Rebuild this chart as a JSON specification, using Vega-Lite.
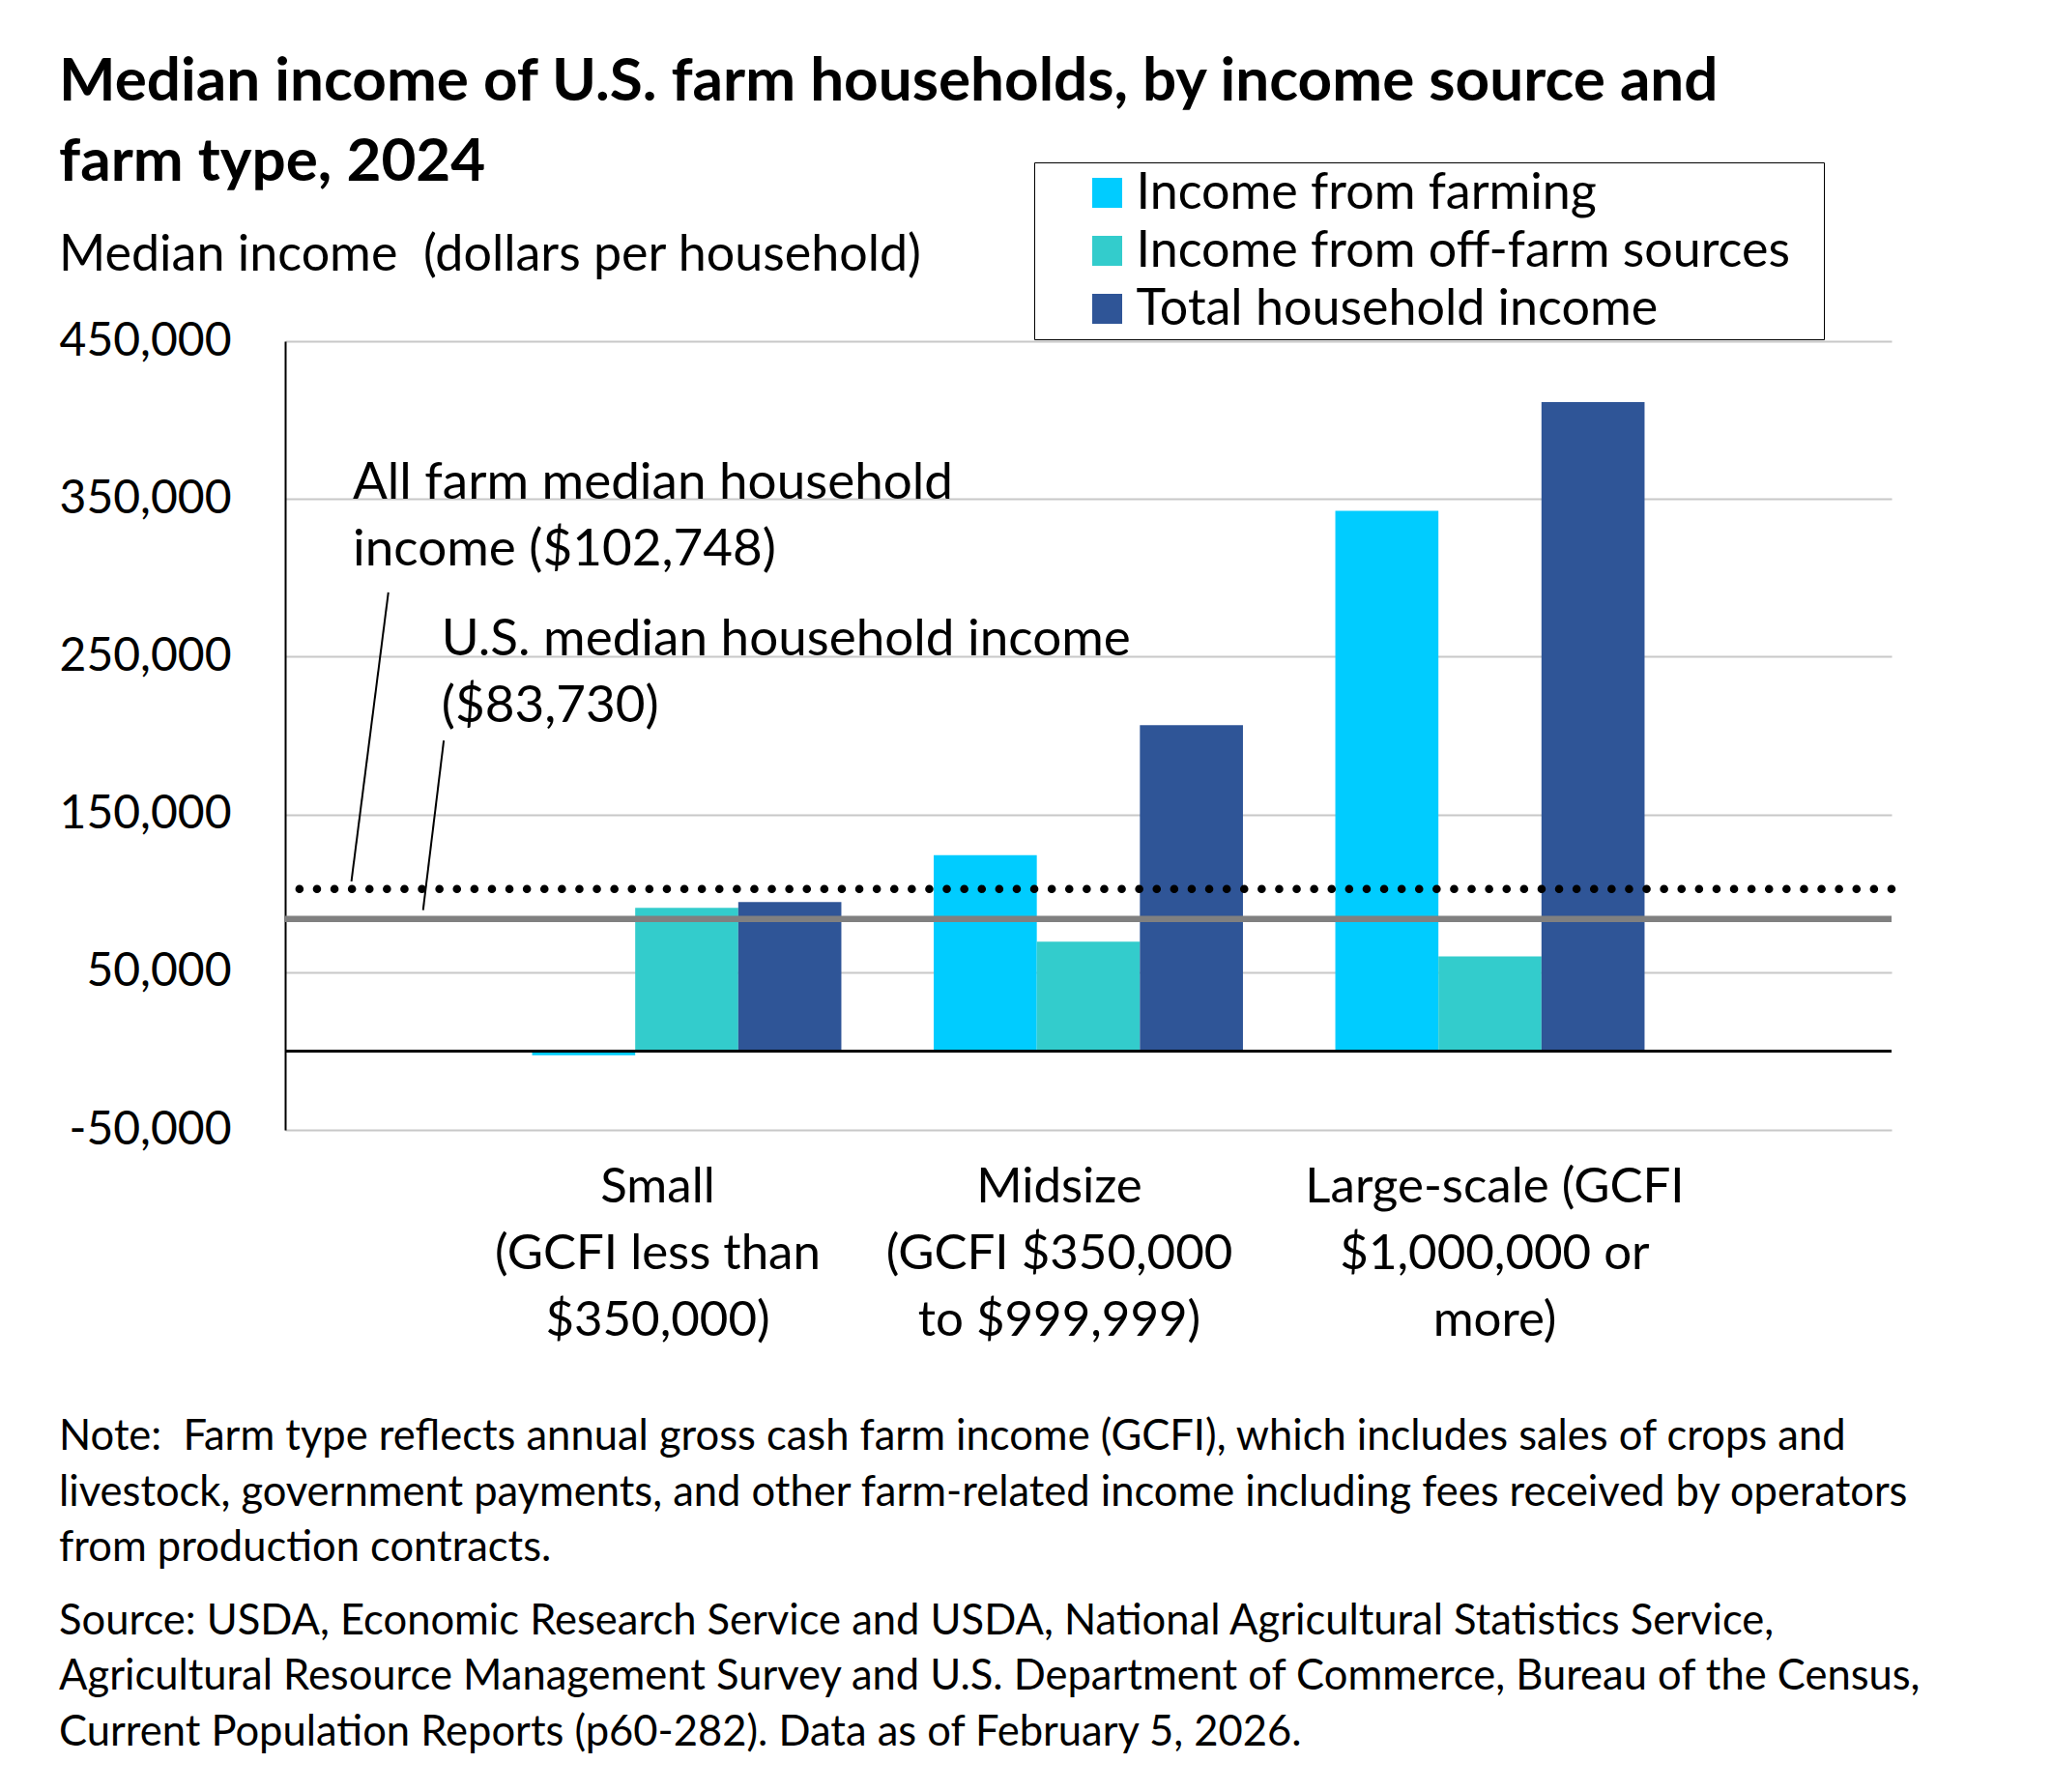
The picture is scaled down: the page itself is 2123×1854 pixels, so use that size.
{
  "$schema": "https://vega.github.io/schema/vega-lite/v6.json",
  "background": "white",
  "padding": {"left": 61, "top": 53, "right": 20, "bottom": 20},
  "autosize": {"type": "pad"},
  "title": {
    "text": [
      "Note:\u00a0 Farm type reflects annual gross cash farm income (GCFI), which includes sales of crops and",
      "livestock, government payments, and other farm-related income including fees received by operators",
      "from production contracts."
    ],
    "subtitle": [
      "Source: USDA, Economic Research Service and USDA, National Agricultural Statistics Service,",
      "Agricultural Resource Management Survey and U.S. Department of Commerce, Bureau of the Census,",
      "Current Population Reports (p60-282). Data as of February 5, 2026."
    ],
    "orient": "bottom",
    "anchor": "start",
    "frame": "bounds",
    "offset": 75,
    "font": "Lato",
    "fontSize": 43.5,
    "fontWeight": "normal",
    "lineHeight": 57.5,
    "color": "black",
    "subtitleFont": "Lato",
    "subtitleFontSize": 43.5,
    "subtitleLineHeight": 57.5,
    "subtitleColor": "black",
    "subtitlePadding": 32
  },
  "vconcat": [
    {
      "width": 1662,
      "height": 816,
      "title": {
        "text": ["Median income of U.S. farm households, by income source and", "farm type, 2024"],
        "subtitle": "Median income\u00a0 (dollars per household)",
        "orient": "top",
        "anchor": "start",
        "frame": "bounds",
        "offset": 38.5,
        "font": "Lato",
        "fontSize": 62,
        "fontWeight": "bold",
        "lineHeight": 83,
        "color": "black",
        "subtitleFont": "Lato",
        "subtitleFontSize": 52,
        "subtitleColor": "black",
        "subtitlePadding": 38.6
      },
      "resolve": {"scale": {"x": "independent"}},
      "layer": [
        {
          "data": {
            "values": [
              {"farm_type": "Small|(GCFI less than|$350,000)", "source": "Income from farming", "income": -2600},
              {"farm_type": "Small|(GCFI less than|$350,000)", "source": "Income from off-farm sources", "income": 90800},
              {"farm_type": "Small|(GCFI less than|$350,000)", "source": "Total household income", "income": 94500},
              {"farm_type": "Midsize|(GCFI $350,000|to $999,999)", "source": "Income from farming", "income": 124100},
              {"farm_type": "Midsize|(GCFI $350,000|to $999,999)", "source": "Income from off-farm sources", "income": 69300},
              {"farm_type": "Midsize|(GCFI $350,000|to $999,999)", "source": "Total household income", "income": 206600},
              {"farm_type": "Large-scale (GCFI|$1,000,000 or|more)", "source": "Income from farming", "income": 342500},
              {"farm_type": "Large-scale (GCFI|$1,000,000 or|more)", "source": "Income from off-farm sources", "income": 60000},
              {"farm_type": "Large-scale (GCFI|$1,000,000 or|more)", "source": "Total household income", "income": 411400}
            ]
          },
          "mark": {"type": "bar"},
          "encoding": {
            "x": {
              "field": "farm_type",
              "type": "nominal",
              "sort": null,
              "scale": {"paddingInner": 0.23, "paddingOuter": 0.615},
              "axis": {
                "title": null,
                "domain": false,
                "ticks": false,
                "tickSize": 0,
                "grid": false,
                "labelAngle": 0,
                "labelExpr": "split(datum.label, '|')",
                "labelFont": "Lato",
                "labelFontSize": 51,
                "labelLineHeight": 69,
                "labelBaseline": "alphabetic",
                "labelPadding": 74,
                "labelColor": "black",
                "labelLimit": 0,
                "labelOverlap": false,
                "labelBound": false,
                "labelOffset": {"condition": {"test": "indexof(datum.value, 'Large') == 0", "value": 5}, "value": -30}
              }
            },
            "xOffset": {
              "field": "source",
              "type": "nominal",
              "sort": ["Income from farming", "Income from off-farm sources", "Total household income"],
              "scale": {"paddingInner": 0, "paddingOuter": 0}
            },
            "y": {
              "field": "income",
              "type": "quantitative",
              "scale": {"domain": [-50000, 450000], "nice": false, "zero": false},
              "axis": {
                "title": null,
                "values": [-50000, 50000, 150000, 250000, 350000, 450000],
                "labelExpr": "replace(format(datum.value, ','), '\u2212', '-')",
                "domain": true,
                "domainColor": "black",
                "domainWidth": 2,
                "ticks": false,
                "tickSize": 0,
                "grid": true,
                "gridColor": "#C8C8C8",
                "gridWidth": 2,
                "labelFont": "Lato",
                "labelFontSize": 48,
                "labelColor": "black",
                "labelPadding": 56,
                "labelBaseline": "middle"
              }
            },
            "color": {
              "field": "source",
              "type": "nominal",
              "scale": {
                "domain": ["Income from farming", "Income from off-farm sources", "Total household income"],
                "range": ["#00CCFF", "#33CCCC", "#2F5597"]
              },
              "legend": {
                "orient": "none",
                "legendX": 775,
                "legendY": -185,
                "title": "\u00a0",
                "titleOrient": "right",
                "titleFontSize": 8,
                "titlePadding": 30,
                "direction": "vertical",
                "symbolType": "square",
                "symbolSize": 961,
                "symbolStrokeWidth": 0,
                "symbolOffset": 44,
                "labelFont": "Lato",
                "labelFontSize": 52,
                "labelColor": "black",
                "labelOffset": 4,
                "labelLimit": 0,
                "rowPadding": 8,
                "padding": 5.5,
                "strokeColor": "black",
                "fillColor": "white"
              }
            }
          }
        },
        {
          "data": {"values": [{"income": 0}]},
          "mark": {"type": "rule", "color": "black", "strokeWidth": 3},
          "encoding": {"y": {"field": "income", "type": "quantitative"}}
        },
        {
          "data": {"values": [{"measure": "All farm median household income", "income": 102748}]},
          "mark": {"type": "rule", "color": "black", "strokeWidth": 8.5, "strokeDash": [0.1, 18], "strokeCap": "round"},
          "encoding": {"y": {"field": "income", "type": "quantitative"}}
        },
        {
          "data": {"values": [{"measure": "U.S. median household income", "income": 83730}]},
          "mark": {"type": "rule", "color": "#808080", "strokeWidth": 6.5},
          "encoding": {"y": {"field": "income", "type": "quantitative"}}
        },
        {
          "data": {
            "values": [
              {"pos": 0.165, "income": 107500, "pos2": 0.257, "income2": 290700},
              {"pos": 0.3435, "income": 89300, "pos2": 0.395, "income2": 196900}
            ]
          },
          "mark": {"type": "rule", "color": "black", "strokeWidth": 2},
          "encoding": {
            "x": {"field": "pos", "type": "quantitative", "scale": {"domain": [0, 4]}, "axis": null},
            "x2": {"field": "pos2"},
            "y": {"field": "income", "type": "quantitative"},
            "y2": {"field": "income2"}
          }
        },
        {
          "data": {
            "values": [
              {"label": ["All farm median household", "income ($102,748)"], "pos": 0.1685, "income": 350100},
              {"label": ["U.S. median household income", "($83,730)"], "pos": 0.3895, "income": 251100}
            ]
          },
          "mark": {"type": "text", "align": "left", "baseline": "alphabetic", "font": "Lato", "fontSize": 53, "lineHeight": 69, "color": "black"},
          "encoding": {
            "x": {"field": "pos", "type": "quantitative", "scale": {"domain": [0, 4]}, "axis": null},
            "y": {"field": "income", "type": "quantitative"},
            "text": {"field": "label"}
          }
        }
      ]
    }
  ],
  "config": {
    "view": {"stroke": null},
    "font": "Lato"
  }
}
